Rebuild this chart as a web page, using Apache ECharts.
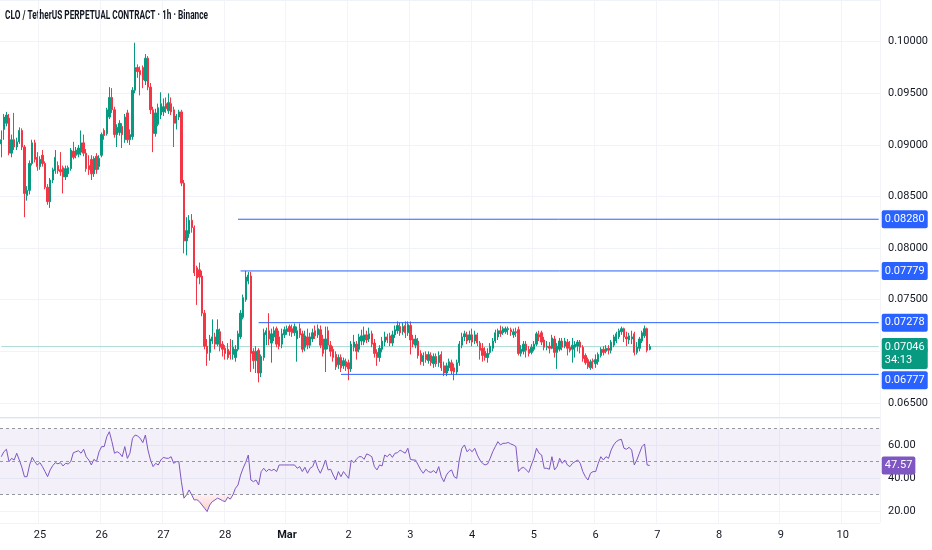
<!DOCTYPE html>
<html><head><meta charset="utf-8">
<script src="https://cdn.jsdelivr.net/npm/echarts@6/dist/echarts.min.js"></script>
<style>html,body{margin:0;padding:0;background:#fff}#c{width:932px;height:550px}</style>
</head><body><div id="c"></div><script>
const titleText = 'CLO / TetherUS PERPETUAL CONTRACT · 1h · Binance';
const startTime = Date.UTC(2025, 1, 24, 9); // first hourly candle
const slotCount = 342;                       // hourly slots shown on the time axis
const monthNames = ['Jan','Feb','Mar','Apr','May','Jun','Jul','Aug','Sep','Oct','Nov','Dec'];

// hourly candles: [open, high, low, close]
const candles = [
[0.0901,0.0914,0.0888,0.0905],[0.0915,0.0930,0.0905,0.0927],[0.0921,0.0932,0.0918,0.0929],[0.0926,0.0930,0.0890,0.0892],
[0.0892,0.0910,0.0888,0.0905],[0.0905,0.0931,0.0895,0.0898],[0.0898,0.0907,0.0895,0.0903],[0.0903,0.0917,0.0901,0.0914],
[0.0914,0.0916,0.0895,0.0898],[0.0898,0.0900,0.0830,0.0853],[0.0851,0.0860,0.0846,0.0856],[0.0856,0.0885,0.0852,0.0882],
[0.0882,0.0905,0.0880,0.0902],[0.0902,0.0905,0.0883,0.0886],[0.0888,0.0893,0.0875,0.0879],[0.0879,0.0889,0.0876,0.0886],
[0.0890,0.0895,0.0879,0.0882],[0.0882,0.0884,0.0857,0.0859],[0.0859,0.0862,0.0842,0.0845],[0.0845,0.0868,0.0839,0.0866],
[0.0866,0.0878,0.0863,0.0876],[0.0875,0.0895,0.0872,0.0888],[0.0880,0.0884,0.0872,0.0875],[0.0876,0.0893,0.0870,0.0874],
[0.0878,0.0880,0.0853,0.0869],[0.0869,0.0880,0.0866,0.0877],[0.0872,0.0880,0.0869,0.0878],[0.0877,0.0897,0.0875,0.0895],
[0.0894,0.0903,0.0886,0.0888],[0.0890,0.0898,0.0887,0.0895],[0.0891,0.0900,0.0888,0.0897],[0.0893,0.0914,0.0890,0.0902],
[0.0902,0.0910,0.0889,0.0892],[0.0892,0.0896,0.0874,0.0877],[0.0880,0.0890,0.0871,0.0876],[0.0886,0.0890,0.0866,0.0872],
[0.0872,0.0889,0.0869,0.0887],[0.0889,0.0892,0.0872,0.0876],[0.0879,0.0890,0.0876,0.0887],[0.0890,0.0912,0.0888,0.0910],
[0.0914,0.0916,0.0905,0.0909],[0.0911,0.0936,0.0909,0.0934],[0.0927,0.0956,0.0925,0.0946],[0.0946,0.0955,0.0931,0.0934],
[0.0934,0.0937,0.0907,0.0910],[0.0910,0.0920,0.0898,0.0917],[0.0912,0.0924,0.0909,0.0921],[0.0918,0.0921,0.0897,0.0910],
[0.0905,0.0930,0.0902,0.0927],[0.0931,0.0934,0.0902,0.0905],[0.0905,0.0915,0.0900,0.0910],[0.0908,0.0956,0.0905,0.0953],
[0.0953,0.0999,0.0950,0.0975],[0.0975,0.0978,0.0965,0.0971],[0.0972,0.0976,0.0948,0.0968],[0.0975,0.0977,0.0955,0.0963],
[0.0962,0.0988,0.0958,0.0984],[0.0984,0.0986,0.0953,0.0956],[0.0956,0.0960,0.0930,0.0934],[0.0934,0.0937,0.0893,0.0911],
[0.0911,0.0935,0.0908,0.0931],[0.0920,0.0940,0.0918,0.0936],[0.0929,0.0951,0.0925,0.0940],[0.0932,0.0945,0.0928,0.0937],
[0.0940,0.0946,0.0931,0.0935],[0.0933,0.0950,0.0930,0.0941],[0.0940,0.0946,0.0929,0.0932],[0.0934,0.0937,0.0898,0.0921],
[0.0921,0.0930,0.0915,0.0928],[0.0927,0.0934,0.0924,0.0932],[0.0932,0.0934,0.0860,0.0863],[0.0863,0.0866,0.0795,0.0807],
[0.0807,0.0830,0.0793,0.0817],[0.0814,0.0832,0.0810,0.0827],[0.0827,0.0833,0.0815,0.0820],[0.0820,0.0822,0.0773,0.0776],
[0.0781,0.0783,0.0745,0.0771],[0.0779,0.0786,0.0765,0.0772],[0.0773,0.0778,0.0734,0.0737],[0.0737,0.0740,0.0702,0.0705],
[0.0705,0.0712,0.0686,0.0698],[0.0699,0.0716,0.0691,0.0712],[0.0710,0.0731,0.0707,0.0714],[0.0714,0.0718,0.0702,0.0707],
[0.0707,0.0731,0.0705,0.0721],[0.0719,0.0722,0.0700,0.0704],[0.0707,0.0710,0.0695,0.0702],[0.0703,0.0706,0.0692,0.0698],
[0.0702,0.0708,0.0692,0.0694],[0.0700,0.0712,0.0692,0.0697],[0.0697,0.0711,0.0692,0.0704],[0.0694,0.0706,0.0690,0.0702],
[0.0702,0.0720,0.0700,0.0717],[0.0714,0.0740,0.0712,0.0737],[0.0733,0.0755,0.0731,0.0752],[0.0750,0.0778,0.0748,0.0772],
[0.0768,0.0777,0.0765,0.0774],[0.0773,0.0777,0.0680,0.0698],[0.0700,0.0703,0.0683,0.0691],[0.0691,0.0705,0.0679,0.0700],
[0.0701,0.0703,0.0670,0.0679],[0.0679,0.0697,0.0675,0.0695],[0.0694,0.0722,0.0691,0.0718],[0.0716,0.0723,0.0706,0.0720],
[0.0720,0.0737,0.0706,0.0712],[0.0708,0.0722,0.0689,0.0717],[0.0714,0.0724,0.0710,0.0720],[0.0722,0.0724,0.0704,0.0707],
[0.0714,0.0720,0.0702,0.0705],[0.0707,0.0722,0.0703,0.0717],[0.0716,0.0724,0.0713,0.0721],[0.0719,0.0725,0.0716,0.0722],
[0.0724,0.0726,0.0715,0.0719],[0.0722,0.0726,0.0714,0.0718],[0.0718,0.0727,0.0715,0.0724],[0.0712,0.0724,0.0690,0.0720],
[0.0722,0.0727,0.0713,0.0716],[0.0717,0.0720,0.0699,0.0702],[0.0704,0.0720,0.0700,0.0715],[0.0714,0.0722,0.0702,0.0706],
[0.0706,0.0718,0.0703,0.0714],[0.0712,0.0722,0.0709,0.0718],[0.0720,0.0725,0.0712,0.0715],[0.0716,0.0726,0.0713,0.0722],
[0.0721,0.0725,0.0703,0.0706],[0.0712,0.0716,0.0695,0.0698],[0.0702,0.0724,0.0680,0.0712],[0.0720,0.0724,0.0702,0.0706],
[0.0706,0.0710,0.0695,0.0700],[0.0702,0.0705,0.0690,0.0694],[0.0697,0.0700,0.0682,0.0685],[0.0687,0.0697,0.0683,0.0694],
[0.0694,0.0697,0.0680,0.0684],[0.0686,0.0694,0.0683,0.0691],[0.0690,0.0693,0.0681,0.0685],[0.0689,0.0692,0.0672,0.0683],
[0.0683,0.0710,0.0680,0.0707],[0.0704,0.0716,0.0700,0.0709],[0.0707,0.0710,0.0692,0.0700],[0.0702,0.0717,0.0699,0.0714],
[0.0710,0.0721,0.0706,0.0715],[0.0709,0.0724,0.0706,0.0716],[0.0716,0.0720,0.0708,0.0711],[0.0712,0.0723,0.0709,0.0717],
[0.0717,0.0720,0.0704,0.0707],[0.0708,0.0712,0.0694,0.0698],[0.0699,0.0702,0.0686,0.0694],[0.0694,0.0706,0.0690,0.0703],
[0.0702,0.0714,0.0699,0.0710],[0.0709,0.0719,0.0705,0.0714],[0.0714,0.0717,0.0708,0.0711],[0.0715,0.0718,0.0705,0.0708],
[0.0708,0.0720,0.0705,0.0716],[0.0716,0.0725,0.0713,0.0721],[0.0720,0.0729,0.0717,0.0725],[0.0724,0.0728,0.0715,0.0718],
[0.0719,0.0728,0.0716,0.0724],[0.0725,0.0729,0.0713,0.0718],[0.0718,0.0729,0.0715,0.0726],[0.0725,0.0729,0.0697,0.0711],
[0.0712,0.0716,0.0704,0.0707],[0.0706,0.0716,0.0703,0.0712],[0.0710,0.0713,0.0693,0.0696],[0.0698,0.0701,0.0687,0.0690],
[0.0690,0.0699,0.0686,0.0696],[0.0697,0.0700,0.0689,0.0692],[0.0691,0.0700,0.0688,0.0697],[0.0696,0.0699,0.0686,0.0689],
[0.0688,0.0698,0.0684,0.0695],[0.0695,0.0698,0.0685,0.0688],[0.0689,0.0700,0.0685,0.0696],[0.0697,0.0700,0.0681,0.0684],
[0.0686,0.0690,0.0676,0.0679],[0.0679,0.0689,0.0676,0.0686],[0.0684,0.0693,0.0681,0.0690],[0.0689,0.0692,0.0678,0.0681],
[0.0684,0.0688,0.0672,0.0680],[0.0680,0.0692,0.0677,0.0689],[0.0689,0.0710,0.0686,0.0707],[0.0706,0.0718,0.0703,0.0714],
[0.0714,0.0720,0.0710,0.0717],[0.0716,0.0719,0.0707,0.0710],[0.0711,0.0720,0.0708,0.0716],[0.0716,0.0722,0.0705,0.0709],
[0.0710,0.0720,0.0707,0.0716],[0.0716,0.0718,0.0705,0.0708],[0.0708,0.0710,0.0692,0.0701],[0.0703,0.0708,0.0690,0.0696],
[0.0700,0.0704,0.0691,0.0694],[0.0694,0.0703,0.0689,0.0698],[0.0699,0.0708,0.0697,0.0705],[0.0703,0.0713,0.0700,0.0710],
[0.0710,0.0721,0.0708,0.0718],[0.0714,0.0722,0.0711,0.0720],[0.0720,0.0725,0.0714,0.0717],[0.0718,0.0724,0.0716,0.0722],
[0.0719,0.0724,0.0717,0.0722],[0.0721,0.0724,0.0716,0.0722],[0.0721,0.0723,0.0715,0.0719],[0.0716,0.0722,0.0713,0.0719],
[0.0719,0.0723,0.0714,0.0718],[0.0721,0.0724,0.0696,0.0698],[0.0698,0.0706,0.0695,0.0702],[0.0700,0.0710,0.0697,0.0707],
[0.0707,0.0710,0.0694,0.0701],[0.0702,0.0705,0.0695,0.0698],[0.0699,0.0707,0.0697,0.0704],[0.0702,0.0710,0.0700,0.0707],
[0.0707,0.0719,0.0705,0.0717],[0.0716,0.0720,0.0710,0.0714],[0.0718,0.0720,0.0706,0.0709],[0.0711,0.0714,0.0701,0.0704],
[0.0704,0.0710,0.0701,0.0705],[0.0705,0.0709,0.0698,0.0703],[0.0703,0.0716,0.0702,0.0713],[0.0712,0.0715,0.0694,0.0699],
[0.0699,0.0708,0.0683,0.0705],[0.0702,0.0713,0.0700,0.0710],[0.0710,0.0713,0.0701,0.0704],[0.0705,0.0713,0.0703,0.0710],
[0.0709,0.0712,0.0696,0.0703],[0.0704,0.0710,0.0699,0.0701],[0.0702,0.0713,0.0689,0.0706],[0.0704,0.0710,0.0694,0.0707],
[0.0705,0.0711,0.0700,0.0709],[0.0709,0.0711,0.0698,0.0704],[0.0704,0.0706,0.0690,0.0693],[0.0696,0.0698,0.0687,0.0689],
[0.0692,0.0694,0.0683,0.0685],[0.0684,0.0692,0.0682,0.0690],[0.0691,0.0693,0.0683,0.0690],[0.0688,0.0697,0.0684,0.0692],
[0.0690,0.0699,0.0687,0.0697],[0.0696,0.0704,0.0694,0.0702],[0.0702,0.0705,0.0696,0.0699],[0.0700,0.0706,0.0698,0.0703],
[0.0703,0.0706,0.0697,0.0701],[0.0701,0.0711,0.0698,0.0709],[0.0706,0.0716,0.0704,0.0714],[0.0710,0.0719,0.0708,0.0717],
[0.0714,0.0722,0.0712,0.0720],[0.0719,0.0724,0.0716,0.0722],[0.0722,0.0723,0.0709,0.0714],[0.0714,0.0719,0.0705,0.0712],
[0.0711,0.0718,0.0707,0.0715],[0.0712,0.0720,0.0707,0.0714],[0.0717,0.0719,0.0696,0.0699],[0.0699,0.0709,0.0697,0.0704],
[0.0703,0.0714,0.0700,0.0712],[0.0710,0.0720,0.0708,0.0718],[0.0715,0.0725,0.0713,0.0722],[0.0722,0.0723,0.0699,0.0701],
[0.0702,0.0707,0.0701,0.07046]
];

// RSI(14) read per candle
const rsi = [
52.9,55.9,57.4,49.9,51.9,50.9,55.0,50.9,46.5,40.8,40.8,47.9,52.5,49.9,47.9,49.3,46.9,43.9,40.8,44.9,
47.5,49.3,48.6,49.3,47.3,48.9,48.5,49.9,55.3,55.9,56.5,55.0,57.4,52.9,50.9,47.9,51.3,49.9,55.9,59.0,
59.0,65.0,68.0,62.0,55.0,55.9,55.0,52.9,59.0,51.9,55.0,64.0,66.0,65.4,64.0,61.4,66.0,56.9,50.9,46.9,
48.9,47.9,50.9,52.5,52.0,51.9,52.9,48.9,49.9,49.9,37.8,27.8,29.8,32.8,29.8,26.7,26.9,25.7,23.7,21.7,
19.7,23.7,25.7,26.7,27.8,27.2,26.3,25.7,28.4,27.2,29.8,33.8,35.8,41.8,46.0,49.5,53.9,38.8,37.8,38.8,
35.8,43.9,45.9,43.9,45.3,44.5,45.3,43.9,47.9,47.9,47.9,47.9,47.9,47.9,47.9,45.9,46.9,43.9,46.5,42.9,
45.9,46.9,50.9,45.9,42.9,46.5,50.9,44.9,45.3,41.8,38.8,43.9,40.8,43.9,41.8,39.8,50.9,49.3,51.3,52.9,
52.9,51.3,54.6,53.9,52.9,46.9,44.9,47.9,47.3,53.9,52.9,54.6,52.5,55.0,55.3,56.9,55.9,55.0,58.0,51.3,
50.9,50.9,47.9,44.9,42.9,45.3,43.9,43.4,44.5,42.9,46.9,40.8,37.8,41.8,43.9,44.9,40.8,39.8,50.9,58.0,
60.0,55.9,57.4,55.9,58.0,53.9,50.9,48.9,47.9,48.5,51.9,55.9,59.0,62.0,60.0,61.0,61.0,61.5,60.6,60.0,
59.0,43.9,45.9,46.5,44.9,43.4,47.9,51.9,58.0,55.0,53.9,45.9,45.9,45.3,52.9,44.9,46.9,51.9,48.9,50.9,
47.9,46.9,48.9,49.9,50.9,48.9,43.9,40.8,38.8,42.9,43.9,43.9,48.9,52.9,50.9,52.9,51.9,56.9,60.0,62.0,
63.0,63.4,58.0,57.4,58.6,56.9,47.9,50.9,55.0,59.0,60.6,47.9,47.57
];

const levelPrices = [0.08280, 0.07779, 0.07278, 0.06777];  // drawn horizontal levels
const levelStartIdx = [92, 93, 100, 132];                   // candle where each level starts
const lastPrice = 0.07046;
const countdown = '34:13';
const rsiLevels = [70, 50, 30];
const rsiBand = [30, 70];

const FONT = "Roboto,'Liberation Sans',sans-serif";
const UP = '#089981', DOWN = '#f23645', BLUE = '#2962ff', PURPLE = '#7e57c2';

const cats = Array.from({length: slotCount}, (_, i) => String(startTime + i * 3600000));
const lastCat = cats[slotCount - 1];
const isMidnight = (i, v) => new Date(+v).getUTCHours() === 0;
const dayLabel = v => {
  const d = new Date(+v);
  return d.getUTCDate() === 1 ? '{m|' + monthNames[d.getUTCMonth()] + '}' : String(d.getUTCDate());
};
const lastRsi = rsi[rsi.length - 1];
const osBase = rsi.map(v => Math.min(v, rsiBand[0]));
const osFill = rsi.map(v => rsiBand[0] - Math.min(v, rsiBand[0]));

// title squeezed horizontally like the reference
const titleFont = 'bold 12px ' + FONT;
const mctx = document.createElement('canvas').getContext('2d');
mctx.font = titleFont;
const titleScale = Math.min(1, 203 / mctx.measureText(titleText).width);

const boxLabel = (bg, offY) => ({
  show: true, position: 'right', distance: 3, offset: [0, offY || 0],
  backgroundColor: bg, color: '#fff', padding: [3, 3, 2, 3], borderRadius: 2,
  fontSize: 11, fontFamily: FONT, lineHeight: 13
});

const levelSeries = levelPrices.map((p, k) => ({
  type: 'line', xAxisIndex: 0, yAxisIndex: 0, symbol: 'none', silent: true, z: 3,
  data: [[cats[levelStartIdx[k]], p], [lastCat, p]],
  lineStyle: {color: BLUE, width: 1, type: 'solid'}
}));
const priceLineSeries = {
  type: 'line', xAxisIndex: 0, yAxisIndex: 0, symbol: 'none', silent: true, z: 1,
  data: [[cats[0], lastPrice], [lastCat, lastPrice]],
  lineStyle: {color: 'rgba(8,153,129,0.35)', width: 1}
};

const chart = echarts.init(document.getElementById('c'));
chart.setOption({
  animation: false,
  backgroundColor: '#ffffff',
  textStyle: {fontFamily: FONT},
  graphic: [{type: 'text', left: 5, top: 10, scaleX: titleScale, silent: true,
    style: {text: titleText, font: titleFont, fill: '#131722'}}],
  grid: [
    {left: 0, top: 0, width: 880, height: 417},
    {left: 0, top: 418, width: 880, height: 105}
  ],
  xAxis: [
    {type: 'category', gridIndex: 0, data: cats, boundaryGap: true,
     axisLabel: {show: false}, axisTick: {show: false},
     axisLine: {show: true, lineStyle: {color: '#e0e3eb'}},
     splitLine: {show: true, interval: isMidnight, lineStyle: {color: '#f3f4f8'}}},
    {type: 'category', gridIndex: 1, data: cats, boundaryGap: true,
     axisTick: {show: false}, axisLine: {show: false},
     axisLabel: {interval: isMidnight, formatter: dayLabel, margin: 7, color: '#131722', fontSize: 11,
       fontFamily: FONT, rich: {m: {fontWeight: 'bold', fontSize: 11, color: '#131722', fontFamily: FONT}}},
     splitLine: {show: true, interval: isMidnight, lineStyle: {color: '#f3f4f8'}}}
  ],
  yAxis: [
    {type: 'value', gridIndex: 0, position: 'right', min: 0.06364, max: 0.10404,
     minInterval: 0.005, maxInterval: 0.005, splitNumber: 8, scale: true,
     axisLine: {show: false}, axisTick: {show: false},
     axisLabel: {showMinLabel: false, showMaxLabel: false, margin: 8, color: '#131722', fontSize: 11,
       fontFamily: FONT, formatter: v => v.toFixed(5)},
     splitLine: {lineStyle: {color: '#f0f3fa'}}},
    {type: 'value', gridIndex: 1, position: 'right', min: 12.8, max: 76.3,
     minInterval: 20, maxInterval: 20, splitNumber: 3, scale: true,
     axisLine: {show: false}, axisTick: {show: false},
     axisLabel: {showMinLabel: false, showMaxLabel: false, margin: 8, color: '#131722', fontSize: 11,
       fontFamily: FONT, formatter: v => v.toFixed(2)},
     splitLine: {lineStyle: {color: '#f0f3fa'}}}
  ],
  series: [
    priceLineSeries,
    {type: 'candlestick', xAxisIndex: 0, yAxisIndex: 0, barWidth: '72%', z: 2,
     data: candles.map(r => [r[0], r[3], r[2], r[1]]),
     itemStyle: {color: UP, color0: DOWN, borderColor: UP, borderColor0: DOWN, borderWidth: 1},
     markPoint: {silent: true, symbol: 'rect', symbolSize: 0.01,
       data: levelPrices.map((p, k) => ({
         coord: [lastCat, p], value: p,
         label: Object.assign(boxLabel(BLUE, k === 3 ? 6 : 0), {formatter: () => p.toFixed(5)})
       })).concat([{
         coord: [lastCat, lastPrice], value: lastPrice,
         label: Object.assign(boxLabel(UP, 7), {formatter: () => lastPrice.toFixed(5) + '\n' + countdown, align: 'left'})
       }])}
    }
  ].concat(levelSeries, [
    {type: 'line', xAxisIndex: 1, yAxisIndex: 1, data: osBase, stack: 'os', symbol: 'none',
     lineStyle: {opacity: 0, width: 0}, silent: true, z: 1},
    {type: 'line', xAxisIndex: 1, yAxisIndex: 1, data: osFill, stack: 'os', symbol: 'none',
     lineStyle: {opacity: 0, width: 0}, silent: true, z: 1,
     areaStyle: {color: new echarts.graphic.LinearGradient(0, 0, 0, 1, [
       {offset: 0, color: 'rgba(242,54,69,0.10)'}, {offset: 1, color: 'rgba(242,54,69,0.35)'}])}},
    {type: 'line', xAxisIndex: 1, yAxisIndex: 1, data: rsi, symbol: 'none', clip: false,
     lineStyle: {color: PURPLE, width: 1}, z: 3,
     markArea: {silent: true, itemStyle: {color: 'rgba(126,87,194,0.09)'},
       data: [[{yAxis: rsiBand[0]}, {yAxis: rsiBand[1]}]]},
     markLine: {silent: true, symbol: ['none', 'none'], label: {show: false},
       lineStyle: {color: '#9598a1', width: 1, type: [3, 3]},
       data: rsiLevels.map(v => ({yAxis: v}))},
     markPoint: {silent: true, symbol: 'rect', symbolSize: 0.01,
       data: [{coord: [lastCat, lastRsi], value: lastRsi,
         label: Object.assign(boxLabel(PURPLE, 0), {formatter: () => lastRsi.toFixed(2)})}]}
    }
  ])
});
</script></body></html>
